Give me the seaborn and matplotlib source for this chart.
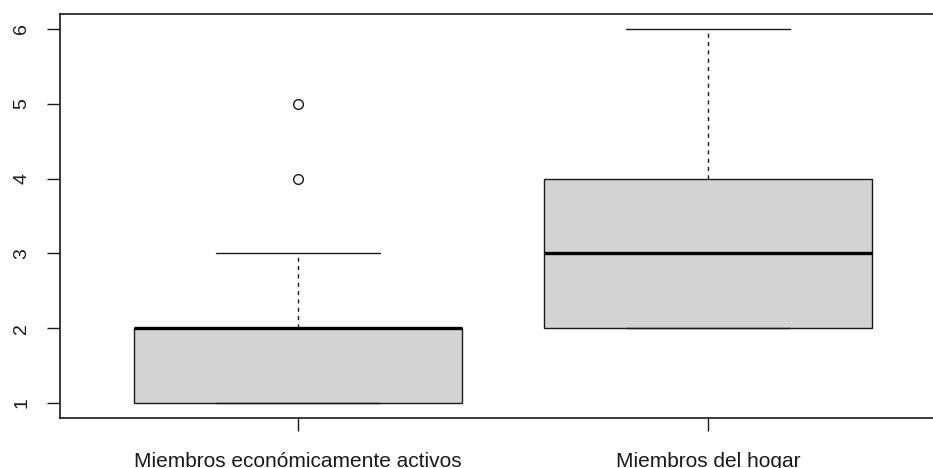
import matplotlib
matplotlib.use("Agg")
import matplotlib.pyplot as plt
import seaborn as sns
import pandas as pd

# Household survey counts per respondent
categorias = ["Miembros económicamente activos", "Miembros del hogar"]
activos = [1, 1, 1, 1, 1, 2, 2, 2, 2, 2, 2, 2, 2, 3, 3, 4, 5]
hogar = [2, 2, 2, 2, 2, 3, 3, 3, 3, 3, 4, 4, 4, 4, 4, 5, 6]
y_ticks = [1, 2, 3, 4, 5, 6]

df = pd.DataFrame({
    "grupo": [categorias[0]] * len(activos) + [categorias[1]] * len(hogar),
    "valor": activos + hogar,
})

sns.set_style("white")
plt.rcParams["font.family"] = ["Liberation Sans", "DejaVu Sans"]

W, H = 933, 468
fig = plt.figure(figsize=(W / 100, H / 100), dpi=100)
ax = fig.add_axes([60 / W, 50 / H, (946 - 60) / W, (418 - 14) / H])

ink = "#1a1a1a"
sns.boxplot(
    data=df, x="grupo", y="valor", order=categorias, ax=ax,
    color="#D3D3D3", saturation=1, width=0.8, whis=1.5,
    linecolor=ink, linewidth=1.0,
    boxprops=dict(edgecolor=ink, linewidth=1.0),
    medianprops=dict(color="black", linewidth=2.4, solid_capstyle="butt"),
    whiskerprops=dict(color=ink, linewidth=1.0, linestyle=(0, (3, 3))),
    capprops=dict(color=ink, linewidth=1.0),
    flierprops=dict(marker="o", markerfacecolor="none", markeredgecolor=ink,
                    markersize=7, markeredgewidth=1.0),
)

ax.set_xlim(-0.58, 1.58)
ax.set_ylim(0.8, 6.2)
ax.set_yticks(y_ticks)
ax.set_yticklabels([str(v) for v in y_ticks], rotation=90, va="center")
ax.set_xlabel("")
ax.set_ylabel("")

for side in ["left", "right", "top", "bottom"]:
    ax.spines[side].set_visible(True)
    ax.spines[side].set_color(ink)
    ax.spines[side].set_linewidth(1.2)

ax.tick_params(axis="both", which="major", length=9.4, width=1.0,
               color=ink, labelcolor=ink, left=True, bottom=True)
ax.tick_params(axis="y", pad=12, labelsize=14)
ax.tick_params(axis="x", pad=15, labelsize=15)

fig.savefig("out.png", dpi=100, facecolor="white")
